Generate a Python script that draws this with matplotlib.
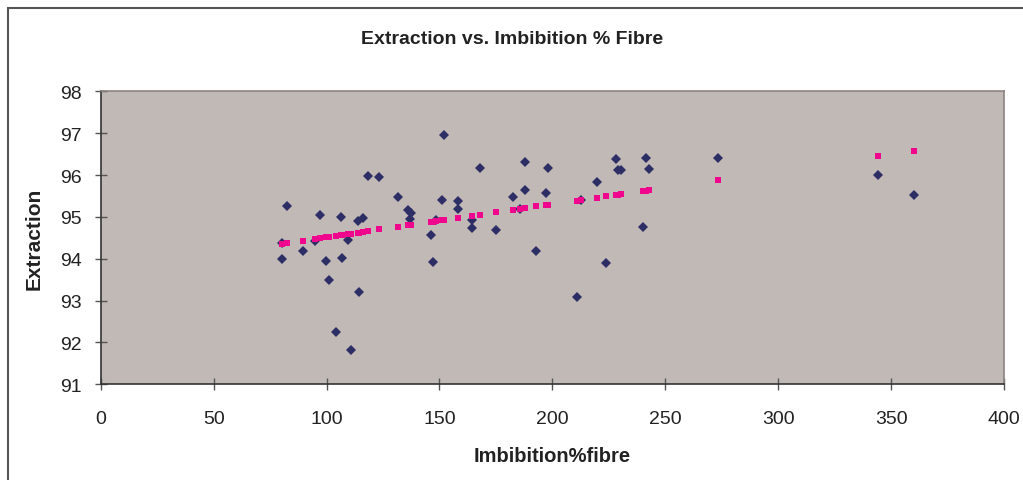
import matplotlib
matplotlib.use("Agg")
import matplotlib.pyplot as plt
from matplotlib.patches import Rectangle

# Imbibition % fibre for each observation
imbibition = [80.1, 80.5, 82.3, 89.4, 94.8, 97.2, 99.9, 101.0, 104.4, 106.5,
              106.9, 109.6, 110.8, 114.0, 114.2, 116.2, 118.4, 123.3, 131.5, 136.3,
              137.6, 137.0, 146.2, 147.0, 148.4, 151.0, 151.9, 158.1, 158.1, 164.6,
              164.6, 167.8, 175.2, 182.7, 185.7, 187.7, 188.1, 192.9, 197.3, 198.2,
              211.1, 212.8, 219.9, 223.7, 228.2, 229.0, 230.5, 240.1, 241.4, 242.7,
              273.3, 344.1, 360.0]

# Measured extraction
extraction = [94.00, 94.38, 95.26, 94.18, 94.42, 95.05, 93.95, 93.48, 92.26, 95.00,
              94.02, 94.45, 91.83, 94.89, 93.21, 94.97, 95.98, 95.95, 95.47, 95.17,
              95.09, 94.95, 94.57, 93.92, 94.93, 95.40, 96.95, 95.37, 95.20, 94.92,
              94.73, 96.16, 94.69, 95.47, 95.20, 95.64, 96.31, 94.18, 95.57, 96.16,
              93.09, 95.40, 95.83, 93.90, 96.38, 96.12, 96.12, 94.75, 96.40, 96.14,
              96.40, 95.99, 95.52]

# Predicted extraction
predicted = [94.35, 94.36, 94.37, 94.43, 94.47, 94.49, 94.51, 94.52, 94.55, 94.56,
             94.57, 94.59, 94.60, 94.62, 94.62, 94.64, 94.66, 94.70, 94.76, 94.80,
             94.81, 94.81, 94.88, 94.88, 94.90, 94.92, 94.92, 94.97, 94.97, 95.02,
             95.02, 95.05, 95.11, 95.17, 95.19, 95.21, 95.21, 95.25, 95.28, 95.29,
             95.39, 95.41, 95.46, 95.49, 95.53, 95.53, 95.55, 95.62, 95.63, 95.64,
             95.88, 96.45, 96.57]

x_ticks = [0, 50, 100, 150, 200, 250, 300, 350, 400]
y_ticks = [91, 92, 93, 94, 95, 96, 97, 98]

plt.rcParams['font.family'] = ['Liberation Sans', 'DejaVu Sans']

fig = plt.figure(figsize=(10.23, 4.81), dpi=100)
fig.patch.set_facecolor('white')

# chart frame
fig.patches.append(Rectangle((8 / 1023, -0.1), 1.2, (481 - 9) / 481 + 0.1,
                             transform=fig.transFigure, fill=False,
                             edgecolor='#555555', linewidth=1.5, zorder=0))

ax = fig.add_axes([100.7 / 1023, 1 - 385.3 / 481, (1004 - 100.7) / 1023, (385.3 - 92.3) / 481])
ax.set_facecolor('#C1B9B6')

ax.plot(imbibition, extraction, linestyle='none', marker='D', markersize=5,
        color='#2E2E66', markeredgewidth=0, zorder=3)
ax.plot(imbibition, predicted, linestyle='none', marker='s', markersize=5,
        color='#F0068C', markeredgewidth=0, zorder=4)

ax.set_xlim(0, 400)
ax.set_ylim(91, 98)
ax.set_xticks(x_ticks)
ax.set_yticks(y_ticks)
ax.tick_params(direction='inout', length=9, width=1, color='#555555',
               labelsize=14, labelcolor='#222222', pad=5)
ax.tick_params(axis='x', pad=14)
ax.tick_params(axis='y', pad=9)

for side in ('top', 'right'):
    ax.spines[side].set_color('#8C8482')
    ax.spines[side].set_linewidth(1.2)
for side in ('left', 'bottom'):
    ax.spines[side].set_color('#333333')
    ax.spines[side].set_linewidth(1.2)

fig.text(512 / 1023, 1 - 40 / 481, 'Extraction vs. Imbibition % Fibre',
         ha='center', va='center', fontsize=14, fontweight='bold', color='#222222')
ax.set_xlabel('Imbibition%fibre', fontsize=14.5, fontweight='bold', color='#222222', labelpad=14)
ax.set_ylabel('Extraction', fontsize=15, fontweight='bold', color='#222222', labelpad=12)

fig.savefig('out.png', dpi=100)
